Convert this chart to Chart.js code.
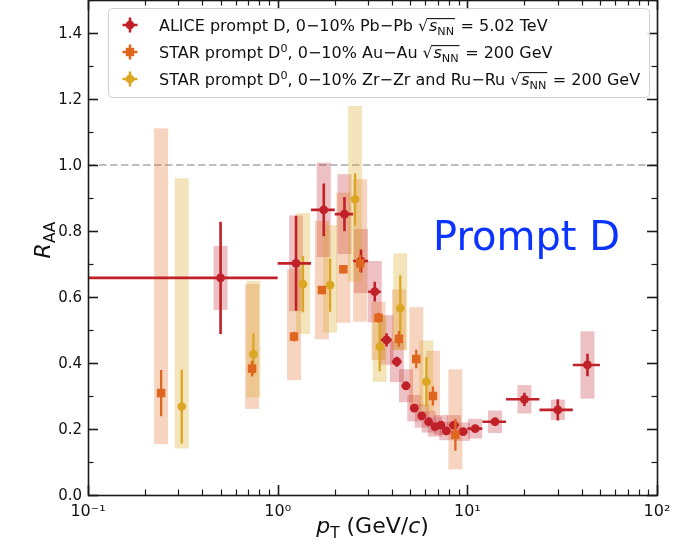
<!DOCTYPE html>
<html>
<head>
<meta charset="utf-8">
<script src="https://cdn.jsdelivr.net/npm/chart.js@4.4.1/dist/chart.umd.min.js"></script>
<style>
  html, body { margin: 0; padding: 0; background: #fff; }
  #wrap { width: 679px; height: 543px; }
</style>
</head>
<body>
<div id="wrap"><canvas id="c" width="679" height="543"></canvas></div>
<script>
// ALICE prompt D, 0-10% Pb-Pb, sqrt(sNN) = 5.02 TeV
const alicePt     = [0.5, 1.25, 1.75, 2.25, 2.75, 3.25, 3.75, 4.25, 4.75, 5.25, 5.75, 6.25, 6.75, 7.25, 7.75, 8.5, 9.5, 11, 14, 20, 30, 43];
const alicePtLow  = [0, 1, 1.5, 2, 2.5, 3, 3.5, 4, 4.5, 5, 5.5, 6, 6.5, 7, 7.5, 8, 9, 10, 12, 16, 24, 36];
const alicePtHigh = [1, 1.5, 2, 2.5, 3, 3.5, 4, 4.5, 5, 5.5, 6, 6.5, 7, 7.5, 8, 9, 10, 12, 16, 24, 36, 50];
const aliceRaa    = [0.658, 0.702, 0.864, 0.851, 0.709, 0.616, 0.470, 0.404, 0.331, 0.263, 0.240, 0.222, 0.207, 0.212, 0.194, 0.212, 0.192, 0.201, 0.222, 0.290, 0.258, 0.394];
const aliceStat   = [0.170, 0.144, 0.080, 0.052, 0.035, 0.030, 0.020, 0.015, 0.010, 0.010, 0.010, 0.010, 0.010, 0.010, 0.010, 0.010, 0.010, 0.010, 0.010, 0.020, 0.032, 0.034];
const aliceSys    = [0.097, 0.145, 0.143, 0.121, 0.097, 0.093, 0.075, 0.062, 0.050, 0.040, 0.036, 0.033, 0.030, 0.030, 0.028, 0.030, 0.028, 0.030, 0.034, 0.043, 0.031, 0.102];

// STAR prompt D0, 0-10% Au-Au, sqrt(sNN) = 200 GeV
const starAuPt     = [0.243, 0.733, 1.22, 1.71, 2.22, 2.72, 3.40, 4.36, 5.38, 6.59, 8.65];
const starAuRaa    = [0.309, 0.383, 0.480, 0.621, 0.684, 0.702, 0.537, 0.473, 0.412, 0.300, 0.182];
const starAuStat   = [0.070, 0.024, 0.015, 0.012, 0.012, 0.026, 0.015, 0.024, 0.028, 0.029, 0.048];
const starAuSysDn  = [0.155, 0.122, 0.132, 0.149, 0.162, 0.177, 0.128, 0.034, 0.146, 0.063, 0.104];
const starAuSysUp  = [0.802, 0.256, 0.204, 0.210, 0.232, 0.255, 0.049, 0.150, 0.157, 0.137, 0.199];

// STAR prompt D0, 0-10% Zr-Zr and Ru-Ru, sqrt(sNN) = 200 GeV
const starZrPt     = [0.312, 0.745, 1.36, 1.89, 2.56, 3.45, 4.43, 6.08];
const starZrRaa    = [0.268, 0.427, 0.639, 0.636, 0.896, 0.449, 0.566, 0.343];
const starZrStat   = [0.112, 0.063, 0.085, 0.081, 0.079, 0.074, 0.100, 0.075];
const starZrSysDn  = [0.127, 0.131, 0.151, 0.144, 0.250, 0.106, 0.126, 0.091];
const starZrSysUp  = [0.692, 0.222, 0.215, 0.182, 0.283, 0.094, 0.166, 0.125];

// Axis ticks
const xTickValues = [0.1, 1, 10, 100];
const xTickLabels = ['10\u207B\u00B9', '10\u2070', '10\u00B9', '10\u00B2'];
const yTickValues = [0, 0.2, 0.4, 0.6, 0.8, 1.0, 1.2, 1.4];
const yTickLabels = ['0.0', '0.2', '0.4', '0.6', '0.8', '1.0', '1.2', '1.4'];

const FONT = '"DejaVu Sans", "Liberation Sans", sans-serif';
const RED = 'rgb(192,33,40)';
const ORANGE = 'rgb(222,102,30)';
const YELLOW = 'rgb(219,166,34)';

const series = [
  { pt: alicePt, raa: aliceRaa, stat: aliceStat, sysDn: aliceSys, sysUp: aliceSys,
    lo: alicePtLow, hi: alicePtHigh, color: RED, box: 'rgba(192,33,40,0.28)', lw: 2.6 },
  { pt: starAuPt, raa: starAuRaa, stat: starAuStat, sysDn: starAuSysDn, sysUp: starAuSysUp,
    color: ORANGE, box: 'rgba(222,102,30,0.28)', lw: 2.3 },
  { pt: starZrPt, raa: starZrRaa, stat: starZrStat, sysDn: starZrSysDn, sysUp: starZrSysUp,
    color: YELLOW, box: 'rgba(219,166,34,0.30)', lw: 2.3 }
];

// Draws a run of text pieces (italic, sub/superscript, square root); returns end x.
function richText(ctx, x, y, runs, size, draw) {
  let cx = x;
  for (const r of runs) {
    if (r.sqrt) {
      ctx.font = `${size}px ${FONT}`;
      const m = ctx.measureText('\u221A');
      if (draw) ctx.fillText('\u221A', cx, y);
      const top = y - m.actualBoundingBoxAscent;
      const start = cx + m.width - 0.8;
      const end = richText(ctx, start + 1.5, y, r.sqrt, size, draw);
      if (draw) {
        ctx.save();
        ctx.strokeStyle = ctx.fillStyle;
        ctx.lineWidth = 1.1;
        ctx.beginPath();
        ctx.moveTo(start, top + 0.6);
        ctx.lineTo(end + 1, top + 0.6);
        ctx.stroke();
        ctx.restore();
      }
      cx = end + 1.5;
      continue;
    }
    const s = (r.sub || r.sup) ? size * 0.7 : size;
    const dy = r.sub ? size * 0.22 : (r.sup ? -size * 0.4 : 0);
    ctx.font = `${r.it ? 'italic ' : ''}${s}px ${FONT}`;
    if (draw) ctx.fillText(r.t, cx, y + dy);
    cx += ctx.measureText(r.t).width;
  }
  return cx;
}

function drawMarker(ctx, kind, x, y, color) {
  ctx.fillStyle = color;
  ctx.beginPath();
  if (kind === 'rect') {
    ctx.rect(x - 4.2, y - 4.2, 8.4, 8.4);
  } else {
    ctx.arc(x, y, 4.4, 0, Math.PI * 2);
  }
  ctx.fill();
}

const framePlugin = {
  id: 'frame',
  beforeDatasetsDraw(chart) {
    const { ctx, chartArea: a, scales: { x: xs, y: ys } } = chart;
    ctx.save();
    ctx.beginPath();
    ctx.rect(a.left, a.top, a.right - a.left, a.bottom - a.top);
    ctx.clip();
    // reference line at unity
    ctx.strokeStyle = 'rgb(190,190,190)';
    ctx.lineWidth = 2;
    ctx.setLineDash([7.5, 3.5]);
    ctx.beginPath();
    const y1 = ys.getPixelForValue(1.0);
    ctx.moveTo(a.left, y1);
    ctx.lineTo(a.right, y1);
    ctx.stroke();
    ctx.setLineDash([]);
    // systematic uncertainty boxes
    for (const s of series) {
      ctx.fillStyle = s.box;
      s.pt.forEach((p, i) => {
        const px = xs.getPixelForValue(p);
        const yt = ys.getPixelForValue(s.raa[i] + s.sysUp[i]);
        const yb = ys.getPixelForValue(s.raa[i] - s.sysDn[i]);
        ctx.fillRect(px - 7, yt, 14, yb - yt);
      });
    }
    ctx.restore();
  },
  beforeDatasetDraw(chart, args) {
    const s = series[args.index];
    const { ctx, chartArea: a, scales: { x: xs, y: ys } } = chart;
    ctx.save();
    ctx.beginPath();
    ctx.rect(a.left, a.top, a.right - a.left, a.bottom - a.top);
    ctx.clip();
    ctx.strokeStyle = s.color;
    ctx.lineWidth = s.lw;
    ctx.beginPath();
    s.pt.forEach((p, i) => {
      const px = xs.getPixelForValue(p);
      const py = ys.getPixelForValue(s.raa[i]);
      ctx.moveTo(px, ys.getPixelForValue(s.raa[i] + s.stat[i]));
      ctx.lineTo(px, ys.getPixelForValue(s.raa[i] - s.stat[i]));
      if (s.lo) {
        const lo = Math.max(s.lo[i], xs.min);
        ctx.moveTo(xs.getPixelForValue(lo), py);
        ctx.lineTo(xs.getPixelForValue(s.hi[i]), py);
      }
    });
    ctx.stroke();
    ctx.restore();
  },
  afterDatasetsDraw(chart) {
    const { ctx, chartArea: a, scales: { x: xs, y: ys } } = chart;
    ctx.save();
    ctx.strokeStyle = '#1a1a1a';
    // inward ticks on all four sides
    const tick = (x0, y0, x1, y1, w) => {
      ctx.lineWidth = w;
      ctx.beginPath(); ctx.moveTo(x0, y0); ctx.lineTo(x1, y1); ctx.stroke();
    };
    const MAJ = 10, MIN = 5.5;
    for (let e = -1; e <= 2; e++) {
      for (let k = 1; k <= 9; k++) {
        const v = k * Math.pow(10, e);
        if (v < xs.min - 1e-9 || v > xs.max + 1e-9) continue;
        const px = Math.round(xs.getPixelForValue(v)) + 0.5;
        const L = k === 1 ? MAJ : MIN;
        const w = k === 1 ? 1.6 : 1.2;
        tick(px, a.bottom, px, a.bottom - L, w);
        tick(px, a.top, px, a.top + L, w);
      }
    }
    for (let j = 0; j <= 15; j++) {
      const v = j / 10;
      const py = Math.round(ys.getPixelForValue(v)) + 0.5;
      const major = j % 2 === 0;
      const L = major ? MAJ : MIN;
      const w = major ? 1.6 : 1.2;
      tick(a.left, py, a.left + L, py, w);
      tick(a.right, py, a.right - L, py, w);
    }
    // frame
    ctx.lineWidth = 1.6;
    ctx.strokeRect(a.left + 0.5, a.top + 0.5, a.right - a.left, a.bottom - a.top);
    ctx.restore();
  },
  afterDraw(chart) {
    const { ctx, chartArea: a } = chart;
    ctx.save();
    ctx.textBaseline = 'alphabetic';
    ctx.textAlign = 'left';

    // legend
    const lx = 108.5, ly = 8.5, lw = 541, lh = 89, rr = 4;
    ctx.beginPath();
    ctx.moveTo(lx + rr, ly);
    ctx.arcTo(lx + lw, ly, lx + lw, ly + lh, rr);
    ctx.arcTo(lx + lw, ly + lh, lx, ly + lh, rr);
    ctx.arcTo(lx, ly + lh, lx, ly, rr);
    ctx.arcTo(lx, ly, lx + lw, ly, rr);
    ctx.closePath();
    ctx.fillStyle = 'rgba(255,255,255,0.85)';
    ctx.fill();
    ctx.strokeStyle = 'rgb(208,208,208)';
    ctx.lineWidth = 1;
    ctx.stroke();

    const sq = [{ t: 's', it: true }, { t: 'NN', sub: true }];
    const rows = [
      { kind: 'circle', color: RED, runs: [{ t: 'ALICE prompt D, 0\u221210% Pb\u2212Pb ' }, { sqrt: sq }, { t: ' = 5.02 TeV' }] },
      { kind: 'rect', color: ORANGE, runs: [{ t: 'STAR prompt D' }, { t: '0', sup: true }, { t: ', 0\u221210% Au\u2212Au ' }, { sqrt: sq }, { t: ' = 200 GeV' }] },
      { kind: 'circle', color: YELLOW, runs: [{ t: 'STAR prompt D' }, { t: '0', sup: true }, { t: ', 0\u221210% Zr\u2212Zr and Ru\u2212Ru ' }, { sqrt: sq }, { t: ' = 200 GeV' }] }
    ];
    const rowY = [25, 52, 79];
    rows.forEach((r, i) => {
      const cy = rowY[i];
      ctx.strokeStyle = r.color;
      ctx.lineWidth = 2.5;
      ctx.beginPath();
      ctx.moveTo(122.5, cy); ctx.lineTo(137.5, cy);
      ctx.moveTo(130, cy - 7.5); ctx.lineTo(130, cy + 7.5);
      ctx.stroke();
      drawMarker(ctx, r.kind, 130, cy, r.color);
      ctx.fillStyle = '#111';
      richText(ctx, 159, cy + 6, r.runs, 16, true);
    });

    // panel tag
    ctx.fillStyle = 'rgb(12,52,255)';
    ctx.font = `40px ${FONT}`;
    ctx.fillText('Prompt D', 433, 250);

    // axis titles
    ctx.fillStyle = '#111';
    const xl = [{ t: 'p', it: true }, { t: 'T', sub: true }, { t: ' (GeV/' }, { t: 'c', it: true }, { t: ')' }];
    const xw = richText(ctx, 0, 0, xl, 22, false);
    richText(ctx, (a.left + a.right) / 2 - xw / 2, 533, xl, 22, true);

    const yl = [{ t: 'R', it: true }, { t: 'AA', sub: true }];
    const yw = richText(ctx, 0, 0, yl, 22, false);
    ctx.translate(50, 240);
    ctx.rotate(-Math.PI / 2);
    richText(ctx, -yw / 2, 0, yl, 22, true);
    ctx.restore();
  }
};

const mk = (s) => s.pt.map((p, i) => ({ x: p, y: s.raa[i] }));

new Chart(document.getElementById('c'), {
  type: 'scatter',
  data: {
    datasets: [
      { label: 'ALICE prompt D', data: mk(series[0]), pointStyle: 'circle', pointRadius: 4.4,
        backgroundColor: RED, borderWidth: 0, order: 1 },
      { label: 'STAR prompt D0 Au-Au', data: mk(series[1]), pointStyle: 'rect', pointRadius: 6,
        backgroundColor: ORANGE, borderWidth: 0, order: 0 },
      { label: 'STAR prompt D0 Zr-Zr and Ru-Ru', data: mk(series[2]), pointStyle: 'circle', pointRadius: 4.3,
        backgroundColor: YELLOW, borderWidth: 0, order: 2 }
    ]
  },
  options: {
    responsive: false,
    animation: false,
    devicePixelRatio: 1,
    layout: { autoPadding: false, padding: { left: 0, right: 22, top: 0, bottom: 0 } },
    plugins: { legend: { display: false }, tooltip: { enabled: false } },
    scales: {
      x: {
        type: 'logarithmic', min: 0.1, max: 100, position: 'bottom',
        afterBuildTicks: (s) => { s.ticks = xTickValues.map(v => ({ value: v })); },
        afterFit: (s) => { s.height = 48; s.paddingLeft = 0; s.paddingRight = 0; },
        ticks: {
          autoSkip: false, maxRotation: 0, minRotation: 0, padding: 7,
          color: '#111', font: { family: FONT, size: 16 },
          callback: (v, i) => xTickLabels[i]
        },
        grid: { display: false, drawTicks: false },
        border: { display: false }
      },
      y: {
        min: 0, max: 1.5,
        afterBuildTicks: (s) => { s.ticks = yTickValues.map(v => ({ value: v })); },
        afterFit: (s) => { s.width = 88; s.paddingTop = 0; s.paddingBottom = 0; },
        ticks: {
          autoSkip: false, padding: 6, labelOffset: 1.5,
          color: '#111', font: { family: FONT, size: 15 },
          callback: (v, i) => yTickLabels[i]
        },
        grid: { display: false, drawTicks: false },
        border: { display: false }
      }
    }
  },
  plugins: [framePlugin]
});
</script>
</body>
</html>
